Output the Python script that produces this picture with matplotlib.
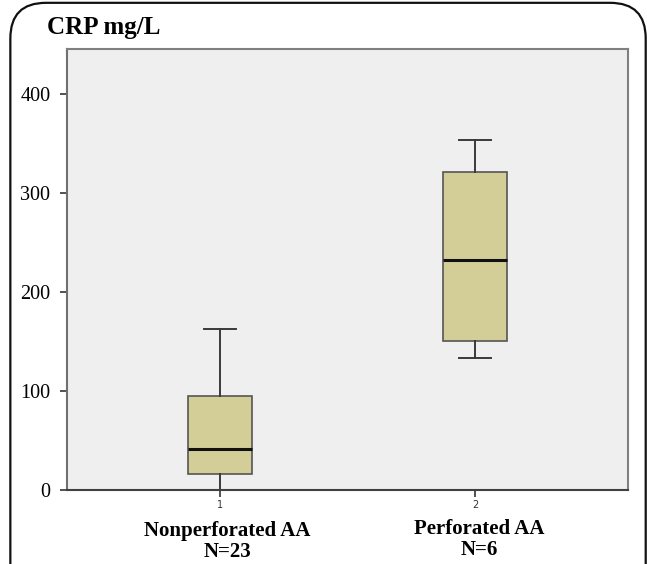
import matplotlib
matplotlib.use("Agg")
import matplotlib.pyplot as plt
from matplotlib.patches import FancyBboxPatch

# box statistics (CRP mg/L)
groups = ["Nonperforated AA", "Perforated AA"]
counts = [23, 6]
whisker_low = [0, 133]
q1 = [16, 150]
medians = [41, 232]
q3 = [95, 321]
whisker_high = [162, 353]
yticks = [0, 100, 200, 300, 400]

BOX_FILL = "#d3cd98"
EDGE = "#3a3a3a"
BG = "#efefef"
SERIF = ["Liberation Serif", "DejaVu Serif"]

fig = plt.figure(figsize=(6.47, 5.64), dpi=100)
ax = fig.add_axes([0.1036, 0.1312, 0.867, 0.782])
ax.set_facecolor(BG)

stats = []
for i, g in enumerate(groups):
    stats.append(dict(label=g, whislo=whisker_low[i], q1=q1[i], med=medians[i],
                      q3=q3[i], whishi=whisker_high[i], fliers=[]))

ax.bxp(stats, positions=[1, 2], widths=0.25, showfliers=False, patch_artist=True,
       boxprops=dict(facecolor=BOX_FILL, edgecolor="#555555", linewidth=1.2),
       medianprops=dict(color="#111111", linewidth=2.2),
       whiskerprops=dict(color=EDGE, linewidth=1.4),
       capprops=dict(color=EDGE, linewidth=1.4),
       capwidths=0.125)

ax.set_xlim(0.4, 2.6)
ax.set_ylim(0, 445)
ax.set_yticks(yticks)
ax.set_yticklabels([str(t) for t in yticks], family=SERIF, fontsize=14.5)
ax.set_xticks([1, 2])
ax.set_xticklabels(["1", "2"], fontsize=7, color="#333333")
ax.tick_params(axis="y", length=5, width=1.2, color="#333333", pad=7)
ax.tick_params(axis="x", length=5, width=1.2, color="#333333", pad=2)

for side in ["top", "right"]:
    ax.spines[side].set_color("#808080")
    ax.spines[side].set_linewidth(1.5)
ax.spines["left"].set_color("#707070")
ax.spines["left"].set_linewidth(1.5)
ax.spines["bottom"].set_color("#404040")
ax.spines["bottom"].set_linewidth(1.5)

# category labels, two lines under each box (slightly off-centre as in the source)
label_x = [1.03, 2.015]
line1_y = [-0.104, -0.1]
line2_y = [-0.152, -0.148]
xform = ax.get_xaxis_transform()
for i, g in enumerate(groups):
    ax.text(label_x[i], line1_y[i], g, transform=xform, ha="center", va="baseline",
            family=SERIF, fontsize=15, fontweight="bold")
    ax.text(label_x[i], line2_y[i], f"N={counts[i]}", transform=xform, ha="center",
            va="baseline", family=SERIF, fontsize=15, fontweight="bold")

fig.text(0.0726, 0.9397, "CRP mg/L", family=SERIF, fontsize=18, fontweight="bold",
         ha="left", va="baseline")

# rounded frame around the figure, open at the bottom
frame = FancyBboxPatch((0.016, -0.2), 0.982, 1.195, transform=fig.transFigure,
                       boxstyle="round,pad=0,rounding_size=0.055",
                       facecolor="none", edgecolor="#111111", linewidth=1.6,
                       mutation_aspect=647 / 564)
fig.patches.append(frame)

fig.savefig("out.png", dpi=100)
